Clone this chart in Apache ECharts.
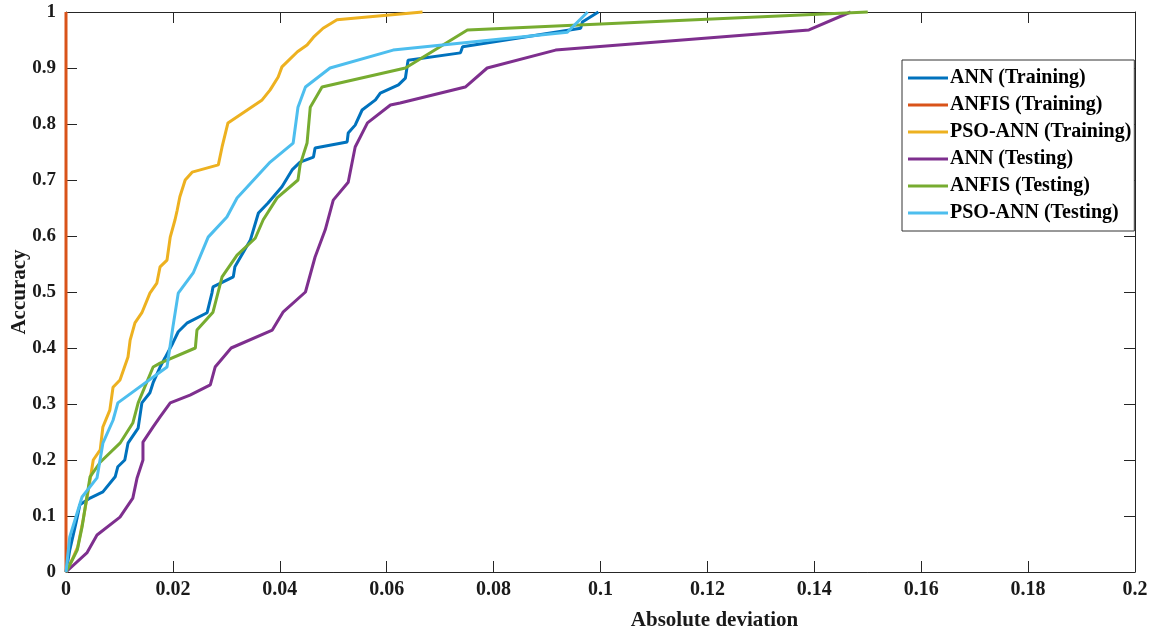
<!DOCTYPE html>
<html>
<head>
<meta charset="utf-8">
<script src="https://cdn.jsdelivr.net/npm/echarts@6/dist/echarts.min.js"></script>
<style>
html,body{margin:0;padding:0;background:#fff;}
#chart{width:1153px;height:636px;}
</style>
</head>
<body>
<div id="chart"></div>
<script>
// ---- data ----
var seriesNames = ['ANN (Training)', 'ANFIS (Training)', 'PSO-ANN (Training)', 'ANN (Testing)', 'ANFIS (Testing)', 'PSO-ANN (Testing)'];
var seriesColors = ['#0072BD', '#D95319', '#EDB120', '#7E2F8E', '#77AC30', '#4DBEEE'];

var xTickLabels = ['0', '0.02', '0.04', '0.06', '0.08', '0.1', '0.12', '0.14', '0.16', '0.18', '0.2'];
var yTickLabels = ['0', '0.1', '0.2', '0.3', '0.4', '0.5', '0.6', '0.7', '0.8', '0.9', '1'];

var annTrainX = [0, 0.0007, 0.0019, 0.0026, 0.0045, 0.0069, 0.0092, 0.0097, 0.011, 0.0116, 0.0135, 0.0142, 0.0157, 0.0163, 0.0176, 0.0185, 0.02, 0.021, 0.0227, 0.0264, 0.0273, 0.0275, 0.0313, 0.0316, 0.0345, 0.036, 0.0378, 0.0404, 0.0423, 0.0438, 0.0463, 0.0466, 0.0526, 0.0528, 0.0541, 0.0554, 0.0579, 0.0588, 0.0622, 0.0635, 0.064, 0.0738, 0.0742, 0.0963, 0.0966, 0.0996];
var annTrainY = [0, 0.039, 0.089, 0.12, 0.132, 0.143, 0.17, 0.188, 0.2, 0.23, 0.257, 0.302, 0.32, 0.338, 0.366, 0.382, 0.409, 0.429, 0.445, 0.463, 0.498, 0.509, 0.527, 0.545, 0.593, 0.641, 0.659, 0.688, 0.718, 0.732, 0.741, 0.757, 0.768, 0.784, 0.798, 0.825, 0.843, 0.855, 0.87, 0.882, 0.914, 0.927, 0.938, 0.971, 0.982, 1];

var anfisTrainX = [0, 0];
var anfisTrainY = [0, 1];

var psoTrainX = [0, 0.0011, 0.0022, 0.0032, 0.0045, 0.0051, 0.0064, 0.0069, 0.0082, 0.0088, 0.0101, 0.0116, 0.012, 0.0129, 0.0142, 0.0157, 0.017, 0.0176, 0.0189, 0.0195, 0.0204, 0.0208, 0.0213, 0.0223, 0.0236, 0.0285, 0.0292, 0.0303, 0.0367, 0.0382, 0.0397, 0.0404, 0.0433, 0.0451, 0.0463, 0.0481, 0.0507, 0.0667];
var psoTrainY = [0, 0.021, 0.045, 0.093, 0.164, 0.2, 0.218, 0.259, 0.289, 0.33, 0.343, 0.384, 0.414, 0.445, 0.463, 0.498, 0.516, 0.545, 0.557, 0.598, 0.629, 0.646, 0.67, 0.7, 0.714, 0.727, 0.759, 0.802, 0.843, 0.861, 0.884, 0.902, 0.929, 0.941, 0.955, 0.971, 0.986, 1];

var annTestX = [0, 0.0039, 0.0058, 0.0101, 0.0125, 0.0133, 0.0144, 0.0144, 0.0163, 0.0176, 0.0195, 0.0232, 0.027, 0.0279, 0.0309, 0.0386, 0.0406, 0.0448, 0.0466, 0.0485, 0.05, 0.0528, 0.0541, 0.0564, 0.0607, 0.0625, 0.0747, 0.0788, 0.0916, 0.139, 0.1468];
var annTestY = [0, 0.034, 0.066, 0.098, 0.132, 0.168, 0.2, 0.232, 0.259, 0.277, 0.302, 0.316, 0.334, 0.366, 0.4, 0.432, 0.464, 0.5, 0.5625, 0.611, 0.664, 0.696, 0.759, 0.802, 0.834, 0.8375, 0.866, 0.9, 0.932, 0.968, 1];

var anfisTestX = [0, 0.0007, 0.0021, 0.003, 0.0045, 0.0064, 0.0101, 0.0125, 0.0135, 0.0163, 0.0176, 0.0242, 0.0245, 0.0275, 0.0292, 0.032, 0.0354, 0.0369, 0.0395, 0.0434, 0.0438, 0.0451, 0.0457, 0.0479, 0.0635, 0.0751, 0.15];
var anfisTestY = [0, 0.0125, 0.039, 0.08, 0.17, 0.196, 0.23, 0.266, 0.302, 0.366, 0.373, 0.4, 0.432, 0.464, 0.527, 0.566, 0.596, 0.629, 0.668, 0.7, 0.727, 0.766, 0.83, 0.866, 0.9, 0.968, 1];

var psoTestX = [0, 0.0007, 0.003, 0.0058, 0.0069, 0.0088, 0.0097, 0.0189, 0.02, 0.021, 0.0238, 0.0266, 0.0301, 0.032, 0.0382, 0.0425, 0.0434, 0.0448, 0.0494, 0.0612, 0.0938, 0.0976];
var psoTestY = [0, 0.0625, 0.134, 0.168, 0.23, 0.271, 0.302, 0.366, 0.4375, 0.498, 0.534, 0.598, 0.634, 0.668, 0.732, 0.766, 0.83, 0.866, 0.9, 0.932, 0.964, 1];

var allX = [annTrainX, anfisTrainX, psoTrainX, annTestX, anfisTestX, psoTestX];
var allY = [annTrainY, anfisTrainY, psoTrainY, annTestY, anfisTestY, psoTestY];

// ---- chart ----
var FONT = '"Liberation Serif", "Times New Roman", serif';
var AXIS_COLOR = '#262626';

function pairs(xs, ys) {
  var out = [];
  for (var i = 0; i < xs.length; i++) out.push([xs[i], ys[i]]);
  return out;
}

var series = seriesNames.map(function (name, k) {
  return {
    name: name,
    type: 'line',
    data: pairs(allX[k], allY[k]),
    showSymbol: false,
    symbol: 'none',
    clip: false,
    animation: false,
    lineStyle: { color: seriesColors[k], width: 3 },
    itemStyle: { color: seriesColors[k] }
  };
});

var chart = echarts.init(document.getElementById('chart'), null, { renderer: 'canvas' });
chart.setOption({
  backgroundColor: '#ffffff',
  animation: false,
  grid: { left: 66, right: 18, top: 12, bottom: 64, containLabel: false, outerBoundsMode: 'none' },
  legend: {
    orient: 'vertical',
    left: 902,
    top: 60,
    padding: [8, 3, 8, 6],
    itemWidth: 40,
    itemHeight: 3,
    itemGap: 7,
    icon: 'rect',
    backgroundColor: '#ffffff',
    borderColor: '#333333',
    borderWidth: 1,
    borderRadius: 0,
    textStyle: { fontFamily: FONT, fontWeight: 'bold', fontSize: 20, color: '#000', padding: [0, 0, 0, -3], lineHeight: 20 },
    data: seriesNames
  },
  xAxis: [{
    type: 'value',
    min: 0, max: 0.2, interval: 0.02,
    name: 'Absolute deviation',
    nameLocation: 'middle',
    nameGap: 38,
    nameMoveOverlap: false,
    nameTextStyle: { fontFamily: FONT, fontWeight: 'bold', fontSize: 21, color: '#1a1a1a', padding: [0, 0, 0, 228] },
    axisLine: { show: true, onZero: false, lineStyle: { color: AXIS_COLOR, width: 1 } },
    axisTick: { show: true, inside: true, length: 11, lineStyle: { color: AXIS_COLOR, width: 1 } },
    axisLabel: { fontFamily: FONT, fontWeight: 'bold', fontSize: 20, color: '#1a1a1a', margin: 8,
      formatter: function (v, i) { return xTickLabels[i]; } },
    splitLine: { show: false }
  }, {
    type: 'value',
    position: 'top',
    min: 0, max: 0.2, interval: 0.02,
    axisLine: { show: true, onZero: false, lineStyle: { color: AXIS_COLOR, width: 1 } },
    axisTick: { show: true, inside: true, length: 11, lineStyle: { color: AXIS_COLOR, width: 1 } },
    axisLabel: { show: false },
    splitLine: { show: false }
  }],
  yAxis: [{
    type: 'value',
    min: 0, max: 1, interval: 0.1,
    name: 'Accuracy',
    nameLocation: 'middle',
    nameGap: 36,
    nameMoveOverlap: false,
    nameTextStyle: { fontFamily: FONT, fontWeight: 'bold', fontSize: 21, color: '#1a1a1a' },
    axisLine: { show: true, onZero: false, lineStyle: { color: AXIS_COLOR, width: 1 } },
    axisTick: { show: true, inside: true, length: 11, lineStyle: { color: AXIS_COLOR, width: 1 } },
    axisLabel: { fontFamily: FONT, fontWeight: 'bold', fontSize: 19, color: '#1a1a1a', margin: 10,
      formatter: function (v, i) { return yTickLabels[i]; } },
    splitLine: { show: false }
  }, {
    type: 'value',
    position: 'right',
    min: 0, max: 1, interval: 0.1,
    axisLine: { show: true, onZero: false, lineStyle: { color: AXIS_COLOR, width: 1 } },
    axisTick: { show: true, inside: true, length: 11, lineStyle: { color: AXIS_COLOR, width: 1 } },
    axisLabel: { show: false },
    splitLine: { show: false }
  }],
  series: series
});
</script>
</body>
</html>
